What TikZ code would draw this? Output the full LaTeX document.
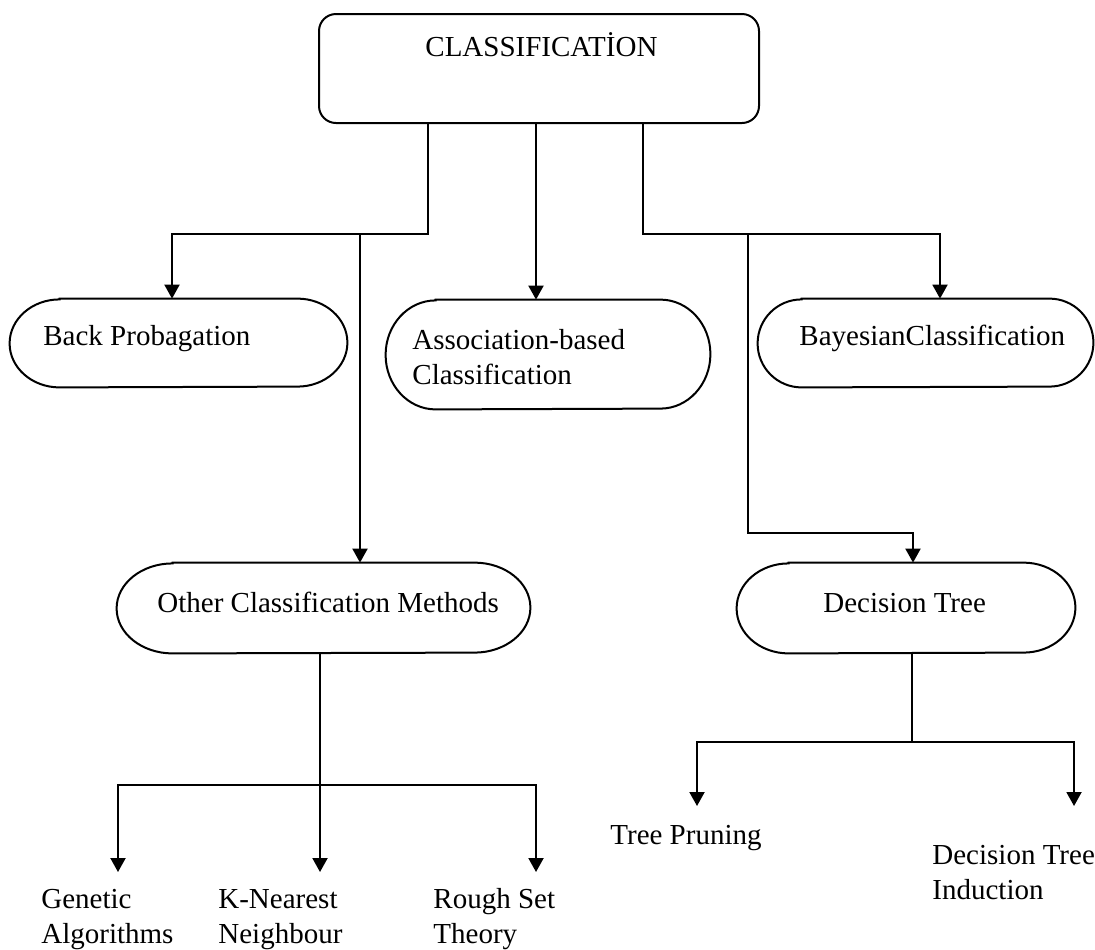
\documentclass[tikz,border=0pt]{standalone}
\usepackage{fontspec}
\setmainfont{Liberation Serif}
\usetikzlibrary{arrows.meta}
\newcommand\stadiumoutline[3]{%
  \draw[line width=1pt] ([xshift=#2]#1.north west) -- ([xshift=-#2]#1.north east)
    arc[start angle=90,end angle=-90,x radius=#2,y radius=#3]
    -- ([xshift=#2]#1.south west)
    arc[start angle=270,end angle=90,x radius=#2,y radius=#3] -- cycle;}
\begin{document}
\begin{tikzpicture}[x=0.5pt,y=-0.5pt,
  conn/.style={line width=1pt},
  arr/.style={line width=1pt,-{Triangle[width=7.5pt,length=7pt]}},
  shapebox/.style={draw=none,inner sep=0pt,rectangle},
  txt/.style={inner sep=0pt,anchor=base west,font=\fontsize{14.5}{17.5}\selectfont},
]
\useasboundingbox (0,0) rectangle (1095,949);

% top box
\node[shapebox,draw,line width=1pt,rounded corners=8.5pt,minimum width=220pt,minimum height=54.5pt] (top) at (539,68.5) {};
\node[txt] (toptext) at (425,56) {CLASSIFICATİON};

% stadium boxes
\node[shapebox,minimum width=168.5pt,minimum height=44pt] (back) at (178.5,343) {};
\node[shapebox,minimum width=162pt,minimum height=54.5pt] (assoc) at (548,354.5) {};
\node[shapebox,minimum width=167.5pt,minimum height=44pt] (bayes) at (925.5,343) {};
\node[shapebox,minimum width=206.5pt,minimum height=45pt] (other) at (323.5,608) {};
\node[shapebox,minimum width=169pt,minimum height=45pt] (dtree) at (906,608) {};
\stadiumoutline{back}{25pt}{22pt}
\stadiumoutline{assoc}{25pt}{27.25pt}
\stadiumoutline{bayes}{22pt}{22pt}
\stadiumoutline{other}{28pt}{22.5pt}
\stadiumoutline{dtree}{26pt}{22.5pt}

% texts
\node[txt] (backt) at (43,345) {Back Probagation};
\node[txt] (assoct) at (412,349) {\begin{tabular}[t]{@{}l@{}}Association-based\\Classification\end{tabular}};
\node[txt] (bayest) at (799,345) {BayesianClassification};
\node[txt] (othert) at (157,612) {Other Classification Methods};
\node[txt] (dtreet) at (823,612) {Decision Tree};
\node[txt] (gen) at (41,908) {\begin{tabular}[t]{@{}l@{}}Genetic\\Algorithms\end{tabular}};
\node[txt] (knn) at (218,908) {\begin{tabular}[t]{@{}l@{}}K-Nearest\\Neighbour\end{tabular}};
\node[txt] (rst) at (433,908) {\begin{tabular}[t]{@{}l@{}}Rough Set\\Theory\end{tabular}};
\node[txt] (tp) at (610,844) {Tree Pruning};
\node[txt] (dti) at (932,864) {\begin{tabular}[t]{@{}l@{}}Decision Tree\\Induction\end{tabular}};

% junction coordinates
\coordinate (jL) at (428,234);
\coordinate (jBack) at (172,234);
\coordinate (jOther) at (360,234);
\coordinate (jM) at (536,234);
\coordinate (jR) at (643,234);
\coordinate (jBay) at (940,234);
\coordinate (jDec) at (748,234);
\coordinate (jDec3) at (913,533);
\coordinate (oJ) at (320,785);
\coordinate (gTip) at (118,872);
\coordinate (kTip) at (320,872);
\coordinate (rTip) at (536,872);
\coordinate (dJ) at (912,742);
\coordinate (tpTip) at (697,806);
\coordinate (dtiTip) at (1074,806);

% connectors from top
\draw[arr] (top.south -| jL) |- (jBack) -- (back.north -| jBack);
\draw[arr] (jOther) -- (other.north -| jOther);
\draw[arr] (top.south -| jM) -- (assoc.north -| jM);
\draw[arr] (top.south -| jR) |- (jBay) -- (bayes.north -| jBay);
\draw[arr] (jDec) |- (jDec3) -- (dtree.north -| jDec3);

% other methods branch
\draw[conn] (other.south -| oJ) -- (oJ);
\draw[arr] (oJ) -| (gTip);
\draw[arr] (oJ) -- (kTip);
\draw[arr] (oJ) -| (rTip);

% decision tree branch
\draw[conn] (dtree.south -| dJ) -- (dJ);
\draw[arr] (dJ) -| (tpTip);
\draw[arr] (dJ) -| (dtiTip);
\end{tikzpicture}
\end{document}
